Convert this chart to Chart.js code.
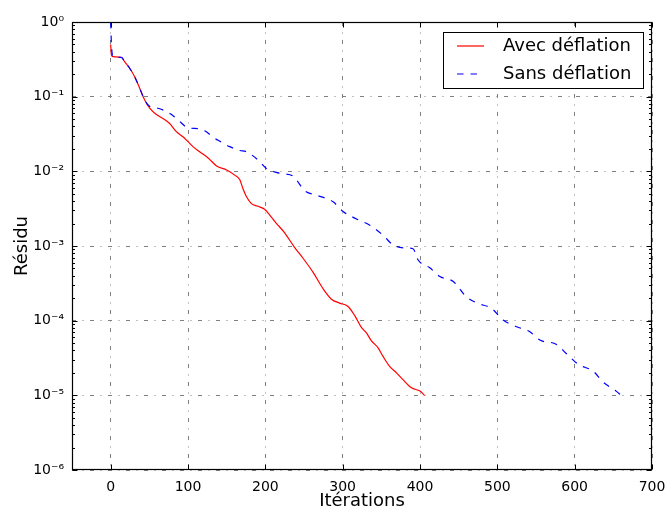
<!DOCTYPE html>
<html>
<head>
<meta charset="utf-8">
<script src="https://cdn.jsdelivr.net/npm/chart.js@4.4.1/dist/chart.umd.min.js"></script>
<style>
  html, body { margin: 0; padding: 0; background: #ffffff; }
  #wrap { width: 670px; height: 510px; position: relative; }
</style>
</head>
<body>
<div id="wrap"><canvas id="c" width="670" height="510"></canvas></div>
<script>
// ---- data ----
const seriesNames = ['Avec déflation', 'Sans déflation'];

const avecIter = [0, 1, 3, 14, 18, 24.6, 31, 37.5, 44, 50.5, 57, 67.7, 76, 85, 93.5, 100, 106.5, 115, 126, 137, 150, 160.4, 167, 171, 175.5, 182, 190.5, 199, 205.7, 214, 225, 238, 249, 262, 275, 285.5, 296, 307, 316, 324, 331, 337, 346, 352, 361, 369.6, 378, 389, 400, 406];
const avecResidu = [0.5, 0.36, 0.343, 0.335, 0.295, 0.24, 0.185, 0.13, 0.09, 0.07, 0.06, 0.051, 0.044, 0.034, 0.029, 0.025, 0.0214, 0.0183, 0.0151, 0.0118, 0.0104, 0.0089, 0.0077, 0.0059, 0.0046, 0.0037, 0.0034, 0.0031, 0.0026, 0.00203, 0.0015, 0.00095, 0.00068, 0.00044, 0.000265, 0.000194, 0.000172, 0.000155, 0.000115, 0.000082, 0.000068, 0.000054, 0.000043, 0.0000335, 0.0000242, 0.00002, 0.0000162, 0.0000126, 0.0000114, 0.00001];

const sansIter = [0, 1, 3, 14, 18, 24.6, 31, 37.5, 44, 50.5, 61, 76, 87, 98, 102, 115, 121.6, 132, 139, 154, 167, 175.5, 190.5, 201, 214, 223, 236, 251, 266, 287.6, 300.5, 318, 335, 352, 365, 382.5, 391, 397.6, 412.7, 425.6, 443, 460, 475, 492.5, 507.5, 525, 542, 555, 576.6, 589.5, 604.6, 624, 637, 654, 660];
const sansResidu = [1.0, 0.5, 0.343, 0.335, 0.295, 0.24, 0.185, 0.13, 0.09, 0.074, 0.07, 0.06, 0.049, 0.039, 0.038, 0.037, 0.035, 0.029, 0.026, 0.0214, 0.019, 0.0183, 0.0142, 0.011, 0.0097, 0.0093, 0.0086, 0.0055, 0.0048, 0.0039, 0.0029, 0.0023, 0.0019, 0.0014, 0.00104, 0.00094, 0.00092, 0.00065, 0.00051, 0.00039, 0.000335, 0.000208, 0.00017, 0.000146, 0.000102, 0.000083, 0.000071, 0.000055, 0.000048, 0.000036, 0.000026, 0.000021, 0.000015, 0.0000113, 0.00001];

const xTicks = [0, 100, 200, 300, 400, 500, 600, 700];
const yTicks = [1, 1e-1, 1e-2, 1e-3, 1e-4, 1e-5, 1e-6];
const yTickLabels = ['10⁰', '10⁻¹', '10⁻²', '10⁻³', '10⁻⁴', '10⁻⁵', '10⁻⁶'];
const xTitle = 'Itérations';
const yTitle = 'Résidu';

// ---- build ----
const FONT = 'DejaVu Sans';
function pts(xs, ys) { return xs.map((x, i) => ({ x: x, y: ys[i] })); }

const framePlugin = {
  id: 'frameTicks',
  afterDraw(chart) {
    const ctx = chart.ctx;
    const a = chart.chartArea;
    const xs = chart.scales.x, ys = chart.scales.y;
    const L = Math.round(a.left) + 0.5, R = Math.round(a.right) - 0.5;
    const T = Math.round(a.top) + 0.5, B = Math.round(a.bottom) - 0.5;
    ctx.save();
    ctx.strokeStyle = '#000000';
    ctx.lineWidth = 1;
    ctx.beginPath();
    xTicks.forEach(v => {
      const px = Math.round(xs.getPixelForValue(v)) + 0.5;
      ctx.moveTo(px, B); ctx.lineTo(px, B - 5);
      ctx.moveTo(px, T); ctx.lineTo(px, T + 5);
    });
    yTicks.forEach(v => {
      const py = Math.round(ys.getPixelForValue(v)) + 0.5;
      ctx.moveTo(L, py); ctx.lineTo(L + 5, py);
      ctx.moveTo(R, py); ctx.lineTo(R - 5, py);
      if (v < 1) {
        for (let m = 2; m <= 9; m++) {
          const pm = Math.round(ys.getPixelForValue(v * m)) + 0.5;
          ctx.moveTo(L, pm); ctx.lineTo(L + 2.5, pm);
          ctx.moveTo(R, pm); ctx.lineTo(R - 2.5, pm);
        }
      }
    });
    ctx.stroke();
    ctx.lineWidth = 1.2;
    ctx.strokeRect(L, T, R - L, B - T);

    // legend
    const bx = 443.5, by = 32.5, bw = 200, bh = 56;
    ctx.fillStyle = '#ffffff';
    ctx.fillRect(bx, by, bw, bh);
    ctx.lineWidth = 1;
    ctx.strokeStyle = '#000000';
    ctx.strokeRect(bx, by, bw, bh);
    chart.data.datasets.forEach((ds, i) => {
      const yy = 46 + i * 28;
      ctx.save();
      ctx.strokeStyle = ds.borderColor;
      ctx.lineWidth = ds.borderWidth;
      ctx.setLineDash(ds.borderDash || []);
      ctx.beginPath();
      ctx.moveTo(457, yy); ctx.lineTo(484, yy);
      ctx.stroke();
      ctx.restore();
      ctx.fillStyle = '#000000';
      ctx.font = '18px "' + FONT + '"';
      ctx.textAlign = 'left';
      ctx.textBaseline = 'middle';
      ctx.fillText(ds.label, 503, yy);
    });
    ctx.restore();
  }
};

new Chart(document.getElementById('c'), {
  type: 'line',
  data: {
    datasets: [
      {
        label: seriesNames[0],
        data: pts(avecIter, avecResidu),
        borderColor: '#ff0000',
        borderWidth: 1.2,
        pointRadius: 0,
        fill: false,
        cubicInterpolationMode: 'monotone',
        order: 2
      },
      {
        label: seriesNames[1],
        data: pts(sansIter, sansResidu),
        borderColor: '#0000ff',
        borderWidth: 1.2,
        borderDash: [6.5, 7],
        pointRadius: 0,
        fill: false,
        cubicInterpolationMode: 'monotone',
        order: 1
      }
    ]
  },
  options: {
    responsive: false,
    animation: false,
    devicePixelRatio: 1,
    layout: { padding: { top: 22, right: 18, left: 0, bottom: 0 } },
    plugins: {
      legend: { display: false },
      tooltip: { enabled: false }
    },
    scales: {
      x: {
        type: 'linear',
        min: -50,
        max: 700,
        afterBuildTicks(scale) { scale.ticks = xTicks.map(v => ({ value: v })); },
        afterFit(scale) { scale.height = 40; scale.paddingLeft = 0; scale.paddingRight = 0; },
        ticks: {
          color: '#000000',
          font: { family: FONT, size: 14 },
          padding: 9,
          maxRotation: 0,
          autoSkip: false
        },
        grid: { color: '#808080', lineWidth: 1, drawTicks: false },
        border: { display: false, dash: [4, 6.5, 1, 6.5] },
        title: {
          display: true,
          text: xTitle,
          color: '#000000',
          font: { family: FONT, size: 18 },
          padding: { top: 0, bottom: -2 }
        }
      },
      y: {
        type: 'logarithmic',
        min: 1e-6,
        max: 1,
        afterBuildTicks(scale) { scale.ticks = yTicks.map(v => ({ value: v })); },
        afterFit(scale) { scale.width = 72; scale.paddingTop = 0; scale.paddingBottom = 0; },
        ticks: {
          color: '#000000',
          font: { family: FONT, size: 14 },
          padding: 8,
          autoSkip: false,
          callback(v) {
            const i = yTicks.findIndex(t => Math.abs(Math.log10(t) - Math.log10(v)) < 1e-6);
            return i >= 0 ? yTickLabels[i] : '';
          }
        },
        grid: { color: '#808080', lineWidth: 1, drawTicks: false },
        border: { display: false, dash: [4, 6.5, 1, 6.5] },
        title: {
          display: true,
          text: yTitle,
          color: '#000000',
          font: { family: FONT, size: 18 },
          padding: { top: 12, bottom: 0 }
        }
      }
    }
  },
  plugins: [framePlugin]
});
</script>
</body>
</html>
